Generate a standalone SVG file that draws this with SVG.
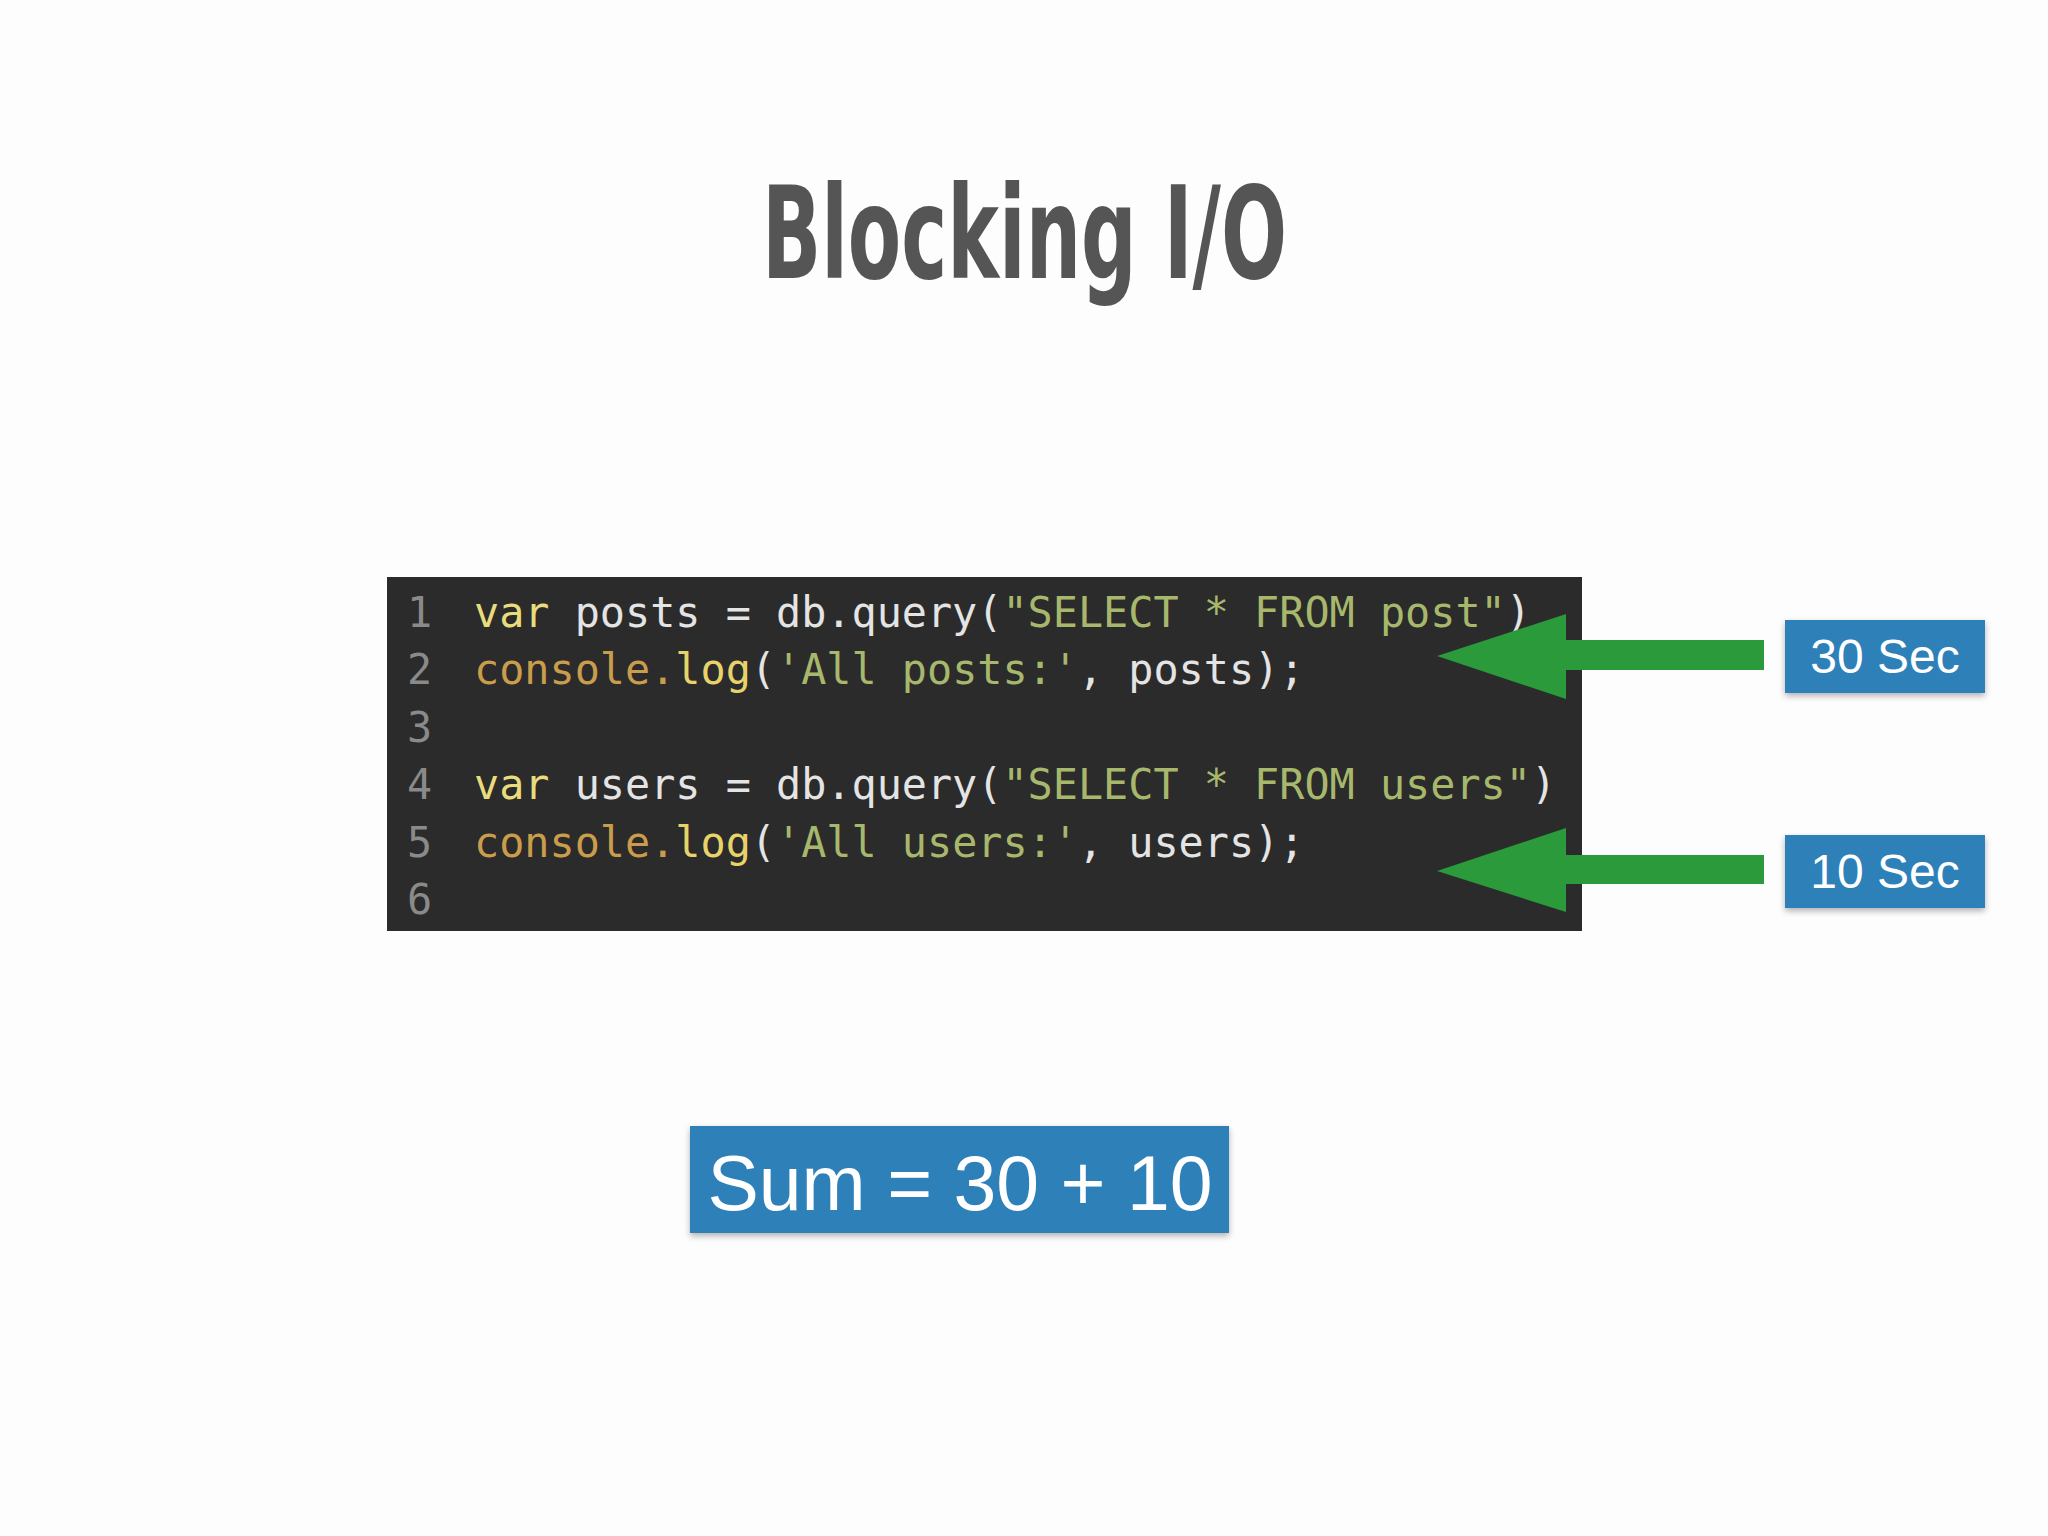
<svg xmlns="http://www.w3.org/2000/svg" width="2048" height="1536" viewBox="0 0 2048 1536">
<style>
.code{font-family:"DejaVu Sans Mono","Liberation Mono",monospace;font-size:41.8px}
.ln{fill:#8a8a8a}.kw{fill:#e9dc7c}.id{fill:#e4e4e4}.st{fill:#a7b86c}.cs{fill:#c99d4c}.lg{fill:#e8d36a}
.lbl{font-family:"Liberation Sans",Arial,sans-serif;fill:#fff}
.box{fill:#2f80b9}
.arr{fill:#2a9a3b}
</style>
<defs><filter id="sh" x="-10%" y="-10%" width="120%" height="130%"><feDropShadow dx="0" dy="3" stdDeviation="3" flood-opacity="0.3"/></filter></defs>
<rect width="2048" height="1536" fill="#fdfdfd"/>
<text x="762" y="278" textLength="525" lengthAdjust="spacingAndGlyphs" font-family="DejaVu Sans,sans-serif" font-weight="bold" font-size="128" fill="#555">Blocking I/O</text>
<g id="code">
<rect x="387" y="577" width="1195" height="354" fill="#2b2b2b"/>
<g class="code">
<text x="407" y="627" class="ln">1</text>
<text x="474" y="627" xml:space="preserve"><tspan class="kw">var</tspan><tspan class="id"> posts = db.query(</tspan><tspan class="st">"SELECT * FROM post"</tspan><tspan class="id">)</tspan></text>
<text x="407" y="684" class="ln">2</text>
<text x="474" y="684" xml:space="preserve"><tspan class="cs">console.</tspan><tspan class="lg">log</tspan><tspan class="id">(</tspan><tspan class="st">'All posts:'</tspan><tspan class="id">, posts);</tspan></text>
<text x="407" y="742" class="ln">3</text>
<text x="407" y="799" class="ln">4</text>
<text x="474" y="799" xml:space="preserve"><tspan class="kw">var</tspan><tspan class="id"> users = db.query(</tspan><tspan class="st">"SELECT * FROM users"</tspan><tspan class="id">)</tspan></text>
<text x="407" y="857" class="ln">5</text>
<text x="474" y="857" xml:space="preserve"><tspan class="cs">console.</tspan><tspan class="lg">log</tspan><tspan class="id">(</tspan><tspan class="st">'All users:'</tspan><tspan class="id">, users);</tspan></text>
<text x="407" y="914" class="ln">6</text>
</g>
</g>
<g id="connectors">
<polygon class="arr" points="1437,656 1566,614 1566,640 1764,640 1764,670 1566,670 1566,699"/>
<polygon class="arr" points="1437,871 1566,828 1566,855 1764,855 1764,884 1566,884 1566,912"/>
</g>
<g id="label30"><rect class="box" x="1785" y="620" width="200" height="73" filter="url(#sh)"/><text class="lbl" x="1885" y="673" text-anchor="middle" font-size="48">30 Sec</text></g>
<g id="label10"><rect class="box" x="1785" y="835" width="200" height="73" filter="url(#sh)"/><text class="lbl" x="1885" y="888" text-anchor="middle" font-size="48">10 Sec</text></g>
<g id="sum"><rect class="box" x="690" y="1126" width="539" height="107" filter="url(#sh)"/><text class="lbl" x="960" y="1210" text-anchor="middle" font-size="77">Sum = 30 + 10</text></g>
</svg>
